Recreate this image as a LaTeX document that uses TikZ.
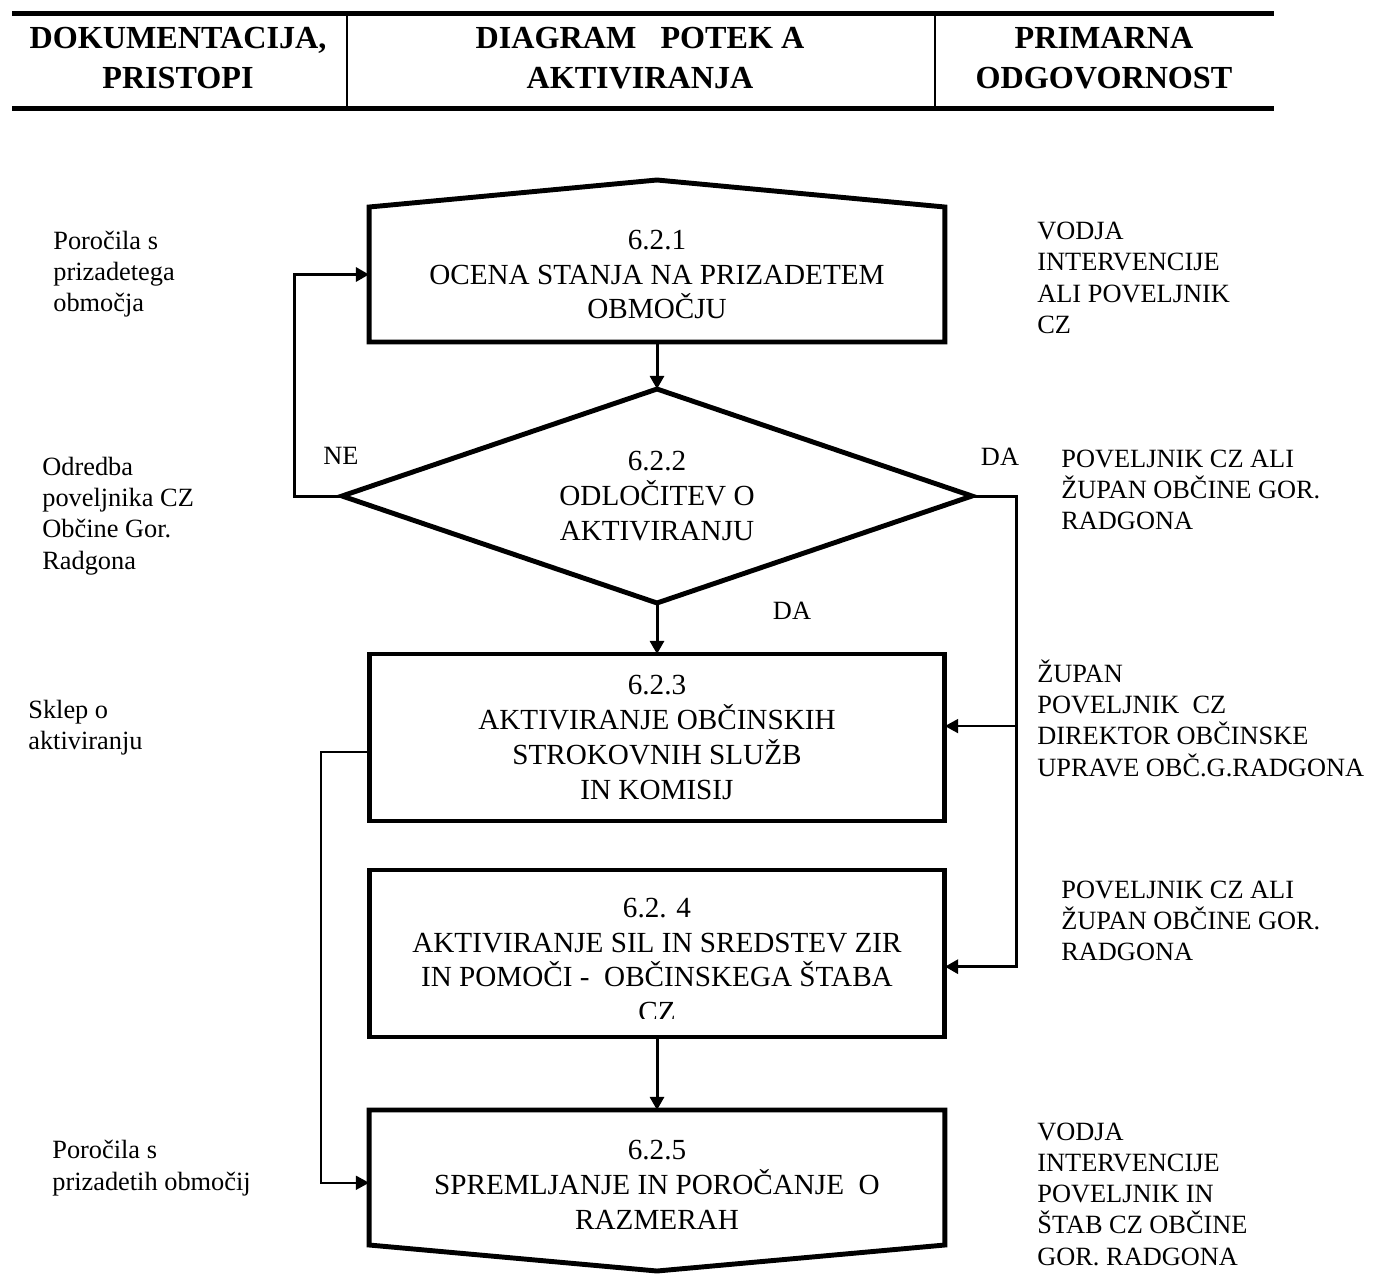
\documentclass[tikz,border=0pt]{standalone}
\usepackage{fontspec}
\setmainfont{Liberation Serif}
\usetikzlibrary{arrows.meta,shapes.geometric}
\newcommand\boxfont{\fontsize{16.6pt}{19.8pt}\selectfont}
\newcommand\sidefont{\fontsize{15pt}{17.8pt}\selectfont}
\newcommand\headfont{\fontsize{18.3pt}{22.7pt}\selectfont\bfseries}
\begin{document}
\begin{tikzpicture}[x=0.02cm,y=-0.02cm,line join=miter,>={Triangle[length=7.5pt,width=8pt]},
		stepbox/.style={rectangle,minimum width=11.52cm,inner sep=0pt,outer sep=0pt,align=center,font=\boxfont},
		boxline/.style={line width=2.8pt},
		choice/.style={diamond,aspect=3,draw,line width=2.8pt,minimum width=12.6cm,minimum height=4.28cm,inner sep=0pt,outer sep=0pt,align=center,font=\boxfont},
		link/.style={line width=1.7pt},
		thinlink/.style={line width=0.9pt},
		side/.style={anchor=west,inner sep=0pt,align=left,font=\sidefont},
		head/.style={align=center,font=\headfont},
		hrule/.style={line width=2.8pt}]
	\useasboundingbox (0,0) rectangle (1373,1275);
	% header
	\draw[hrule] (12,13.5) -- (1274,13.5);
	\draw[hrule] (12,108.5) -- (1274,108.5);
	\draw[line width=0.8pt] (347,16) -- (347,106);
	\draw[line width=0.8pt] (935,16) -- (935,106);
	\node[head] (h1) at (178,58) {DOKUMENTACIJA,\\PRISTOPI};
	\node[head] (h2) at (640,58) {DIAGRAM\ \ \ POTEK A\\AKTIVIRANJA};
	\node[head] (h3) at (1104,58) {PRIMARNA\\ODGOVORNOST};
	% steps
	\node[stepbox,minimum height=2.7cm] (b1) at (657,274.5) {6.2.1\\OCENA STANJA NA PRIZADETEM\\OBMOČJU};
	\coordinate (p1) at (657,180);
	\draw[boxline] (b1.south west) -- (b1.north west) -- (p1) -- (b1.north east) -- (b1.south east) -- cycle;
	\node[choice] (d) at (657,496) {6.2.2\\ODLOČITEV O\\AKTIVIRANJU};
	\node[stepbox,draw,boxline,minimum height=3.34cm] (b3) at (657,737.5) {6.2.3\\AKTIVIRANJE OBČINSKIH\\STROKOVNIH SLUŽB\\IN KOMISIJ};
	\node[stepbox,draw,boxline,minimum height=3.34cm] (b4) at (657,953.5) {};
	\coordinate (cut) at ([yshift=10.8pt]b4.south east);
	\begin{scope}
		\clip (b4.north west) rectangle (cut);
		\node[stepbox] (t4) at (657,960) {6.2. 4\\AKTIVIRANJE SIL IN SREDSTEV ZIR\\IN POMOČI - \ OBČINSKEGA ŠTABA\\CZ};
	\end{scope}
	\node[stepbox,minimum height=2.7cm] (b5) at (657,1177.5) {};
	\coordinate (v5) at (657,1271);
	\draw[boxline] (b5.north west) -- (b5.north east) -- (b5.south east) -- (v5) -- (b5.south west) -- cycle;
	\node[stepbox] (t5) at (657,1185) {6.2.5\\SPREMLJANJE IN POROČANJE \ O\\RAZMERAH};
	% connectors
	\coordinate (in3) at ([yshift=6.5pt]b3.east);
	\coordinate (in4) at ([yshift=-7.5pt]b4.east);
	\coordinate (out3) at ([yshift=-8.2pt]b3.west);
	\coordinate (in5) at ([yshift=-3pt]b5.west);
	\draw[link,->] (b1.south) -- (d.north);
	\draw[link,->] (d.south) -- (b3.north);
	\draw[link,->] (b4.south) -- (b5.north);
	\draw[link,->] (d.west) -- ++(-48,0) |- (b1.west);
	\draw[link,->] (d.east) -- ++(45,0) coordinate (da) |- (in4);
	\draw[thinlink,->] (da |- in3) -- (in3);
	\draw[thinlink,->] (out3) -- ++(-48,0) |- (in5);
	\node[font=\sidefont] (ne) at (341,456) {NE};
	\node[font=\sidefont] (da1) at (1000,457) {DA};
	\node[font=\sidefont] (da2) at (792,611) {DA};
	% documents and responsibility
	\node[side] (l1) at (53,274) {Poročila s\\prizadetega\\območja};
	\node[side] (l2) at (42,516) {Odredba\\poveljnika CZ\\Občine Gor.\\Radgona};
	\node[side] (l3) at (28,728) {Sklep o\\aktiviranju};
	\node[side] (l4) at (52,1168) {Poročila s\\prizadetih območij};
	\node[side] (r1) at (1037,278) {VODJA\\INTERVENCIJE\\ALI POVELJNIK\\CZ};
	\node[side] (r2) at (1061,490) {POVELJNIK CZ ALI\\ŽUPAN OBČINE GOR.\\RADGONA};
	\node[side] (r3) at (1037,718) {ŽUPAN\\POVELJNIK \ CZ\\DIREKTOR OBČINSKE\\UPRAVE OBČ.G.RADGONA};
	\node[side] (r4) at (1061,921) {POVELJNIK CZ ALI\\ŽUPAN OBČINE GOR.\\RADGONA};
	\node[side] (r5) at (1037,1194) {VODJA\\INTERVENCIJE\\POVELJNIK IN\\ŠTAB CZ OBČINE\\GOR. RADGONA};
\end{tikzpicture}
\end{document}
